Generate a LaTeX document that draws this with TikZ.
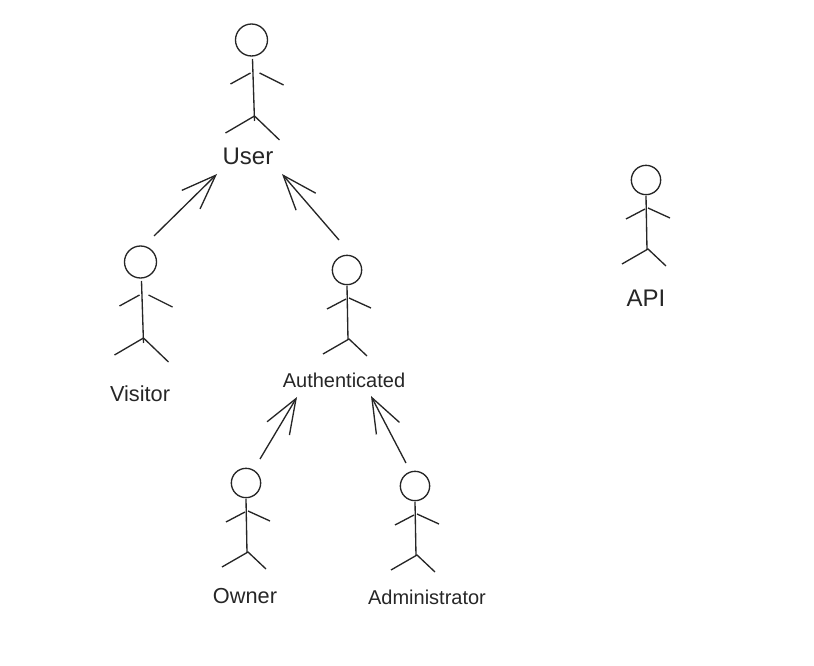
\documentclass[tikz,border=0pt]{standalone}
\usepackage{fontspec}
\setmainfont{Liberation Sans}
\usetikzlibrary{arrows.meta}
\usetikzlibrary{positioning}

\definecolor{inkgray}{HTML}{262626}
\tikzset{
  limb/.style={draw=inkgray, line width=1pt},
  head/.style={circle, draw=inkgray, line width=1pt, inner sep=0pt},
  generalizes/.style={draw=inkgray, line width=1pt,
    -{Straight Barb[length=26pt, width=19.5pt, line width=1pt]}},
  biglabel/.style={text=inkgray, inner sep=0pt, font=\fontsize{18pt}{20pt}\selectfont},
  midlabel/.style={text=inkgray, inner sep=0pt, font=\fontsize{16.3pt}{18pt}\selectfont},
  smalllabel/.style={text=inkgray, inner sep=0pt, font=\fontsize{15pt}{17pt}\selectfont}
}

\newcommand{\bigactor}[3]{
  \node [head, minimum size=24pt] (#1) at (#2,#3) {};
  \begin{scope}[shift={(#2,#3)}]
    \draw [limb] (1,19) -- (3,81);
    \draw [limb] (-21,44) -- (-1,33);
    \draw [limb] (8,33) -- (32,45);
    \draw [limb] (-26,93) -- (3,76) -- (28,100);
  \end{scope}
}
\newcommand{\smallactor}[3]{
  \node [head, minimum size=22pt] (#1) at (#2,#3) {};
  \begin{scope}[shift={(#2,#3)}]
    \draw [limb] (0,16) -- (1,70);
    \draw [limb] (-20,39) -- (-1,29);
    \draw [limb] (2,28) -- (24,38);
    \draw [limb] (-24,84) -- (2,69) -- (20,86);
  \end{scope}
}

\begin{document}
\begin{tikzpicture}[x=0.75pt, y=-0.75pt]
    \useasboundingbox (0,0) rectangle (814,666);

    \bigactor{user}{251.5}{40}
    \bigactor{visitor}{140.5}{262}
    \smallactor{authenticated}{347}{270}
    \smallactor{owner}{246}{483}
    \smallactor{administrator}{415}{486}
    \smallactor{api}{646}{180}

    \node [biglabel] (userlabel) at (248,156) {User};
    \node [midlabel] (visitorlabel) at (140,394) {Visitor};
    \node [smalllabel] (authenticatedlabel) at (344,380) {Authenticated};
    \node [midlabel] (ownerlabel) at (245,596) {Owner};
    \node [smalllabel] (administratorlabel) at (427,597) {Administrator};
    \node [biglabel] (apilabel) at (646,298) {API};

    \draw [generalizes] ([shift={(13.5,-26)}]visitor.center) -- ([shift={(-31,18)}]userlabel.center);
    \draw [generalizes] ([shift={(-8,-30)}]authenticated.center) -- ([shift={(34,18)}]userlabel.center);
    \draw [generalizes] ([shift={(14,-24)}]owner.center) -- ([shift={(-47,17)}]authenticatedlabel.center);
    \draw [generalizes] ([shift={(-9,-23)}]administrator.center) -- ([shift={(27,16)}]authenticatedlabel.center);
\end{tikzpicture}
\end{document}
